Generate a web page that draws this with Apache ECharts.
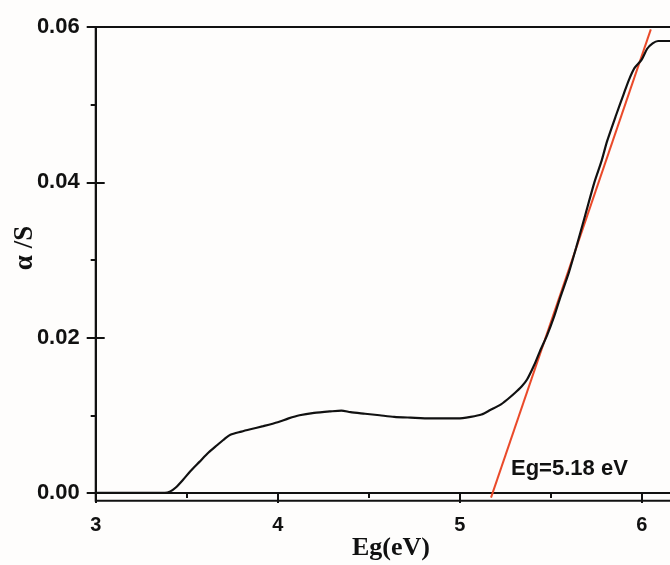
<!DOCTYPE html>
<html>
<head>
<meta charset="utf-8">
<script src="https://cdn.jsdelivr.net/npm/echarts@6/dist/echarts.min.js"></script>
<style>html,body{margin:0;padding:0;background:#fefdfc;}#c{width:670px;height:565px;}</style>
</head>
<body>
<div id="c"></div>
<script>
// Measured curve (Eg in eV, alpha/S)
const egValues = [3.0, 3.1, 3.2, 3.3, 3.38, 3.41, 3.44, 3.48, 3.52, 3.57, 3.62, 3.67, 3.71, 3.74, 3.8, 3.85, 3.92, 4.0, 4.06, 4.12, 4.2, 4.29, 4.35, 4.4, 4.48, 4.56, 4.64, 4.73, 4.84, 4.92, 4.99, 5.06, 5.12, 5.17, 5.22, 5.26, 5.30, 5.34, 5.37, 5.41, 5.44, 5.48, 5.52, 5.55, 5.60, 5.64, 5.69, 5.74, 5.78, 5.81, 5.86, 5.90, 5.93, 5.96, 6.00, 6.03, 6.06, 6.09, 6.16];
const alphaValues = [0, 0, 0, 0, 0, 0.0002, 0.0007, 0.0017, 0.0028, 0.0040, 0.0052, 0.0062, 0.0070, 0.0075, 0.0079, 0.0082, 0.0086, 0.0091, 0.0096, 0.0100, 0.0103, 0.0105, 0.0106, 0.0104, 0.0102, 0.0100, 0.0098, 0.0097, 0.0096, 0.0096, 0.0096, 0.0098, 0.0101, 0.0107, 0.0113, 0.0120, 0.0128, 0.0137, 0.0146, 0.0165, 0.0182, 0.0203, 0.0228, 0.0250, 0.0284, 0.0316, 0.0358, 0.0400, 0.0428, 0.0453, 0.0487, 0.0513, 0.0532, 0.0547, 0.0558, 0.0572, 0.0579, 0.0582, 0.0582];
// Linear fit (tangent) line
const fitX = [5.172, 6.05];
const fitY = [-0.0006, 0.0597];
// Ticks
const yMajorTicks = [0, 0.02, 0.04, 0.06];
const yMinorTicks = [0.01, 0.03, 0.05];
const annotation = 'Eg=5.18 eV';
const xTitle = 'Eg(eV)';
const yTitle = 'α /S';

const chart = echarts.init(document.getElementById('c'));
const curve = egValues.map((x, i) => [x, alphaValues[i]]);
const fit = fitX.map((x, i) => [x, fitY[i]]);
const sansBold = {fontFamily: 'Liberation Sans', fontWeight: 'bold', color: '#111'};

chart.setOption({
  backgroundColor: '#fefdfc',
  animation: false,
  grid: {left: 95.7, top: 27, bottom: 64.3, width: 637, outerBoundsMode: 'none', containLabel: false, show: true, borderColor: '#111', borderWidth: 2, backgroundColor: 'transparent'},
  xAxis: {
    type: 'value', min: 3, max: 6.5, interval: 1,
    axisLine: {lineStyle: {color: '#111', width: 2}},
    axisTick: {show: true, length: 10, lineStyle: {color: '#111', width: 2}},
    minorTick: {show: true, splitNumber: 2, length: 5, lineStyle: {color: '#111', width: 2}},
    splitLine: {show: false},
    axisLabel: Object.assign({fontSize: 20, margin: 15}, sansBold)
  },
  yAxis: [
    {
      type: 'value', min: -0.001, max: 0.06,
      axisLine: {show: true, lineStyle: {color: '#111', width: 2}},
      axisTick: {show: true, length: 9, customValues: yMajorTicks, lineStyle: {color: '#111', width: 2}},
      splitLine: {show: false},
      axisLabel: Object.assign({fontSize: 22, margin: 16, customValues: yMajorTicks, formatter: v => v.toFixed(2)}, sansBold)
    },
    {
      type: 'value', min: -0.001, max: 0.06, position: 'left',
      axisLine: {show: false},
      axisTick: {show: true, inside: true, length: 9, customValues: yMajorTicks, lineStyle: {color: '#111', width: 2}},
      splitLine: {show: false},
      axisLabel: {show: false}
    },
    {
      type: 'value', min: -0.001, max: 0.06, position: 'left',
      axisLine: {show: false},
      axisTick: {show: true, length: 5, customValues: yMinorTicks, lineStyle: {color: '#111', width: 2}},
      splitLine: {show: false},
      axisLabel: {show: false}
    }
  ],
  series: [
    {type: 'line', data: curve, showSymbol: false, smooth: 0.25, lineStyle: {color: '#111', width: 2.2}, z: 3},
    {type: 'line', data: fit, showSymbol: false, lineStyle: {color: '#ea4a2a', width: 2}, z: 2}
  ],
  graphic: [
    {type: 'text', left: 511, top: 458, style: {text: annotation, font: 'bold 22px "Liberation Sans"', fill: '#111'}},
    {type: 'text', x: 391, y: 548, style: {text: xTitle, font: 'bold 26px "Liberation Serif"', fill: '#111', align: 'center', verticalAlign: 'middle'}},
    {type: 'text', x: 25, y: 248, rotation: Math.PI / 2, style: {text: yTitle, font: 'bold 27px "Liberation Serif"', fill: '#111', align: 'center', verticalAlign: 'middle'}}
  ]
});
</script>
</body>
</html>
